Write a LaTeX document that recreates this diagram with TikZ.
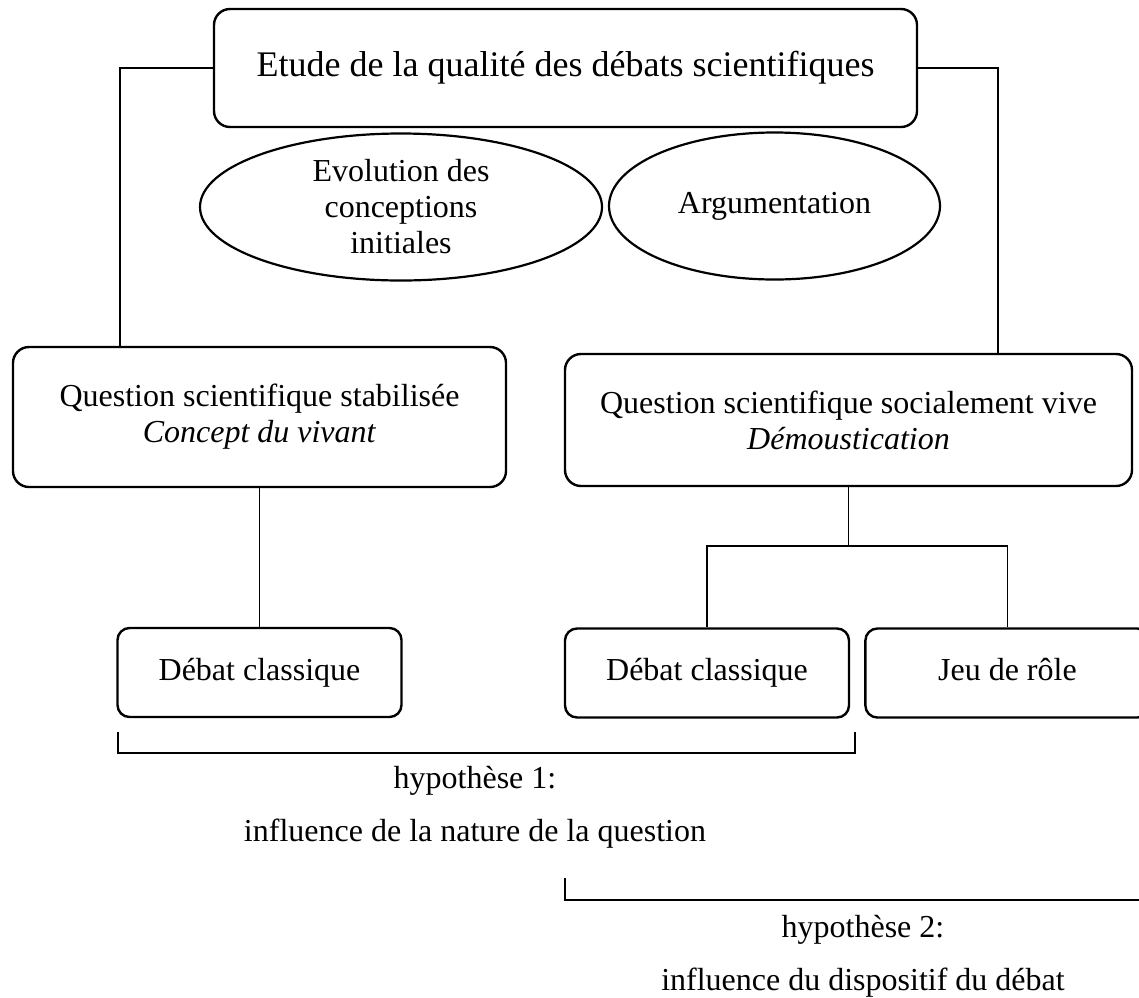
\documentclass[tikz,border=0pt]{standalone}
\usepackage{fontspec}
\setmainfont{Liberation Serif}
\usetikzlibrary{positioning}
\usetikzlibrary{shapes.geometric}

\begin{document}
\begin{tikzpicture}[x=0.5pt,y=-0.5pt,-,semithick,font=\fontsize{16}{18}\selectfont]
	\tikzstyle{boite}=[draw, line width=1.2pt, rounded corners=8pt, align=center, inner sep=0pt]
	\tikzstyle{petite}=[boite, rounded corners=6pt, minimum width=142pt, minimum height=44.5pt, text height=11pt, text depth=3.5pt]
	\tikzstyle{bulle}=[draw, ellipse, line width=1.1pt, align=center, inner sep=0pt, minimum height=73.5pt]
	\tikzstyle{lien}=[line width=0.9pt]
	\useasboundingbox (0,0) rectangle (1139,997);

	\node[boite, minimum width=351.5pt, minimum height=59pt, font=\fontsize{18}{20}\selectfont] (T) at (565.5,68) {Etude de la qualité des débats scientifiques};
	\node[bulle, minimum width=201pt] 	(E) at (401,207) {Evolution des\\conceptions\\initiales};
	\node[bulle, minimum width=165.5pt] (A) at (774.5,206) {Argumentation};
	\node[boite, minimum width=246.5pt, minimum height=70pt] (Q1) at (259.5,417) {Question scientifique stabilisée\\\textit{Concept du vivant}};
	\node[boite, minimum width=283.5pt, minimum height=66pt] (Q2) at (848.5,420) {Question scientifique socialement vive\\\textit{Démoustication}};
	\node[petite] (D1) at (259.5,672.5) {Débat classique};
	\node[petite] (D2) at (707,673) {Débat classique};
	\node[petite] (J) [right=7pt of D2] {Jeu de rôle};

	\coordinate (lk) at (120,0);
	\coordinate (rk) at (998,0);
	\draw[lien] (T.west) -| (lk |- Q1.north);
	\draw[lien] (T.east) -| (rk |- Q2.north);
	\draw[lien] (Q1.south) -- (D1.north);
	\draw[lien] (Q2.south) -- ++(0,59) coordinate (F);
	\draw[lien] (D2.north) |- (F) -| (J.north);

	% hypotheses
	\draw[lien] (118,732) -- (118,753) -- (855,753) -- (855,732);
	\draw[lien] (565,878) -- (565,900) -- (1150,900);
	\node[anchor=base] (H1) at (475,788) {hypothèse 1:};
	\node[anchor=base] (I1) at (475,841) {influence de la nature de la question};
	\node[anchor=base] (H2) at (863,937) {hypothèse 2:};
	\node[anchor=base] (I2) at (863,990) {influence du dispositif du débat};
\end{tikzpicture}
\end{document}
